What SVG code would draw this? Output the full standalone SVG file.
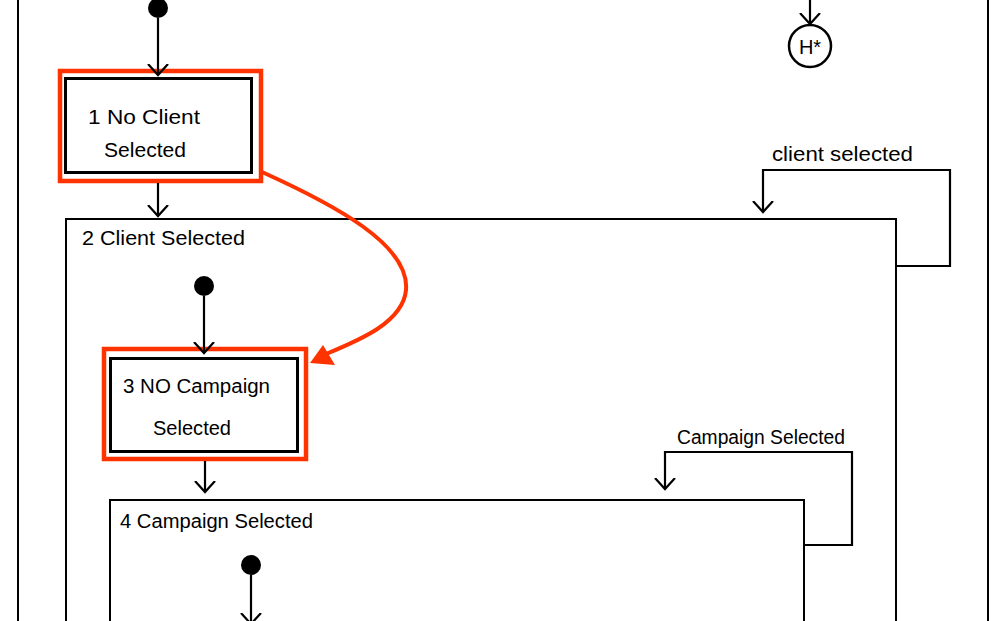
<svg xmlns="http://www.w3.org/2000/svg" width="1000" height="621" viewBox="0 0 1000 621">
<defs>
<style>
.t{font-family:"Liberation Sans",Arial,sans-serif;font-size:20px;fill:#000}
.box{fill:#fff;stroke:#000;stroke-width:2}
.sbox{fill:#fff;stroke:#000;stroke-width:3}
.hl{fill:none;stroke:#ff3300;stroke-width:4.5}
.ln{fill:none;stroke:#000;stroke-width:2.2}
.dot{fill:#000}
</style>
<marker id="open" markerWidth="24" markerHeight="24" refX="11" refY="11" orient="auto" markerUnits="userSpaceOnUse" viewBox="0 0 24 24">
<path d="M0,1 L11,11 L0,21" fill="none" stroke="#000" stroke-width="2.2"/>
</marker>
</defs>
<rect width="1000" height="621" fill="#fff"/>
<g id="outer">
<rect x="18" y="-10" width="970" height="650" class="box"/>
</g>
<g id="state2">
<rect x="66" y="219" width="830" height="420" class="box"/>
<text class="t" x="82" y="245" textLength="163" lengthAdjust="spacingAndGlyphs">2 Client Selected</text>
</g>
<g id="state4">
<rect x="110" y="500" width="694" height="140" class="box"/>
<text class="t" x="120" y="528" textLength="193" lengthAdjust="spacingAndGlyphs">4 Campaign Selected</text>
</g>
<g id="start1"><circle cx="158" cy="8" r="10" class="dot"/></g>
<g id="start2"><circle cx="204" cy="286" r="10" class="dot"/></g>
<g id="start3"><circle cx="251" cy="565" r="10" class="dot"/></g>
<g id="history">
<circle cx="810" cy="46" r="21" fill="#fff" stroke="#000" stroke-width="2.5"/>
<text class="t" x="810" y="54" text-anchor="middle" font-size="20">H*</text>
</g>
<g id="state1">
<rect x="60" y="71" width="201" height="110" class="hl"/>
<rect x="65.5" y="78.5" width="186" height="94" class="sbox"/>
<text class="t" x="88" y="124" textLength="112" lengthAdjust="spacingAndGlyphs">1 No Client</text>
<text class="t" x="104" y="157" textLength="82" lengthAdjust="spacingAndGlyphs">Selected</text>
</g>
<g id="state3">
<rect x="104" y="349" width="202" height="110" class="hl"/>
<rect x="110.5" y="358.5" width="187" height="93" class="sbox"/>
<text class="t" x="123" y="393" textLength="147" lengthAdjust="spacingAndGlyphs">3 NO Campaign</text>
<text class="t" x="153" y="435" textLength="78" lengthAdjust="spacingAndGlyphs">Selected</text>
</g>
<g id="connectors">
<path d="M158,18 V75" class="ln" marker-end="url(#open)"/>
<path d="M158,183 V216" class="ln" marker-end="url(#open)"/>
<path d="M204,296 V353" class="ln" marker-end="url(#open)"/>
<path d="M205,461 V492" class="ln" marker-end="url(#open)"/>
<path d="M251,575 V624" class="ln" marker-end="url(#open)"/>
<path d="M810,-5 V24" class="ln" marker-end="url(#open)"/>
<path d="M896,266 H950 V170 H763 V212" class="ln" marker-end="url(#open)"/>
<path d="M804,545 H852 V452 H665 V489" class="ln" marker-end="url(#open)"/>
<path d="M262,172 C335,205 410,245 406,290 C403,322 360,340 326,354" fill="none" stroke="#ff3300" stroke-width="4"/>
<polygon points="310,363 323,345 335,365" fill="#ff3300"/>
</g>
<g id="labels">
<text class="t" x="772" y="161" textLength="141" lengthAdjust="spacingAndGlyphs">client selected</text>
<text class="t" x="677" y="444" textLength="168" lengthAdjust="spacingAndGlyphs">Campaign Selected</text>
</g>
</svg>
